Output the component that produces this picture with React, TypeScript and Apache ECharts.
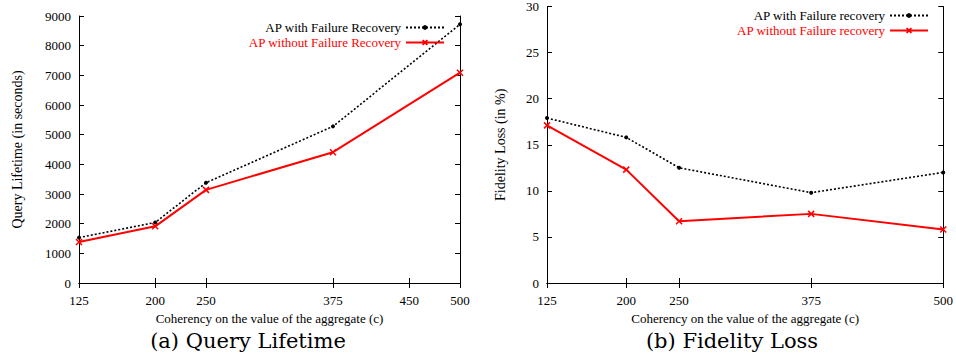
import React, { useEffect, useRef } from "react";
import * as echarts from "echarts";

const coherencyA = [125, 200, 250, 375, 500];
const lifetimeWith = [1530, 2040, 3380, 5280, 8720];
const lifetimeWithout = [1380, 1910, 3140, 4410, 7090];
const ticksA = [125, 200, 250, 375, 450, 500];

const coherencyB = [125, 200, 250, 375, 500];
const fidelityWith = [17.9, 15.8, 12.5, 9.8, 12.0];
const fidelityWithout = [17.1, 12.3, 6.7, 7.5, 5.8];
const ticksB = [125, 200, 250, 375, 500];

const nameA1 = "AP with Failure Recovery";
const nameA2 = "AP without Failure Recovery";
const nameB1 = "AP with Failure recovery";
const nameB2 = "AP without Failure recovery";
const xTitle = "Coherency on the value of the aggregate (c)";

const FONT = "'Liberation Serif', serif";
const CROSS = "path://M0 0L10 10M10 0L0 10";

function pairs(xs: number[], ys: number[]) {
  return xs.map((x, i) => [x, ys[i]]);
}

export default function App() {
  const ref = useRef<HTMLDivElement>(null);
  useEffect(() => {
    const chart = echarts.init(ref.current!, null, { renderer: "svg" });
    const lbl = { fontFamily: FONT, fontSize: 13, color: "#000" };
    const axLine = { show: true, lineStyle: { color: "#000", width: 1 } };
    const mkX = (grid: number, ticks: number[], pos: "top" | "bottom", showLabels: boolean) => ({
      type: "value",
      gridIndex: grid,
      position: pos,
      min: 125,
      max: 500,
      axisLine: axLine,
      splitLine: { show: false },
      axisTick: { show: true, inside: true, length: 5, customValues: ticks, lineStyle: { color: "#000" } },
      axisLabel: { show: showLabels, customValues: ticks, margin: 11, formatter: (v: number) => String(v), ...lbl },
      name: showLabels ? xTitle : "",
      nameLocation: "middle",
      nameGap: 28,
      nameTextStyle: { fontFamily: FONT, fontSize: 13, color: "#000" },
    });
    const mkY = (grid: number, max: number, interval: number, pos: "left" | "right", name: string, gap: number) => ({
      type: "value",
      gridIndex: grid,
      position: pos,
      min: 0,
      max,
      interval,
      axisLine: axLine,
      splitLine: { show: false },
      axisTick: { show: true, inside: true, length: 5, lineStyle: { color: "#000" } },
      axisLabel: { show: pos === "left", margin: 8, formatter: (v: number) => String(v), ...lbl },
      name,
      nameLocation: "middle",
      nameGap: gap,
      nameRotate: 90,
      nameTextStyle: { fontFamily: FONT, fontSize: 14, color: "#000" },
    });
    const blackSeries = (name: string, xi: number, yi: number, data: number[][]) => ({
      name,
      type: "line",
      xAxisIndex: xi,
      yAxisIndex: yi,
      data,
      symbol: "circle",
      symbolSize: 4,
      itemStyle: { color: "#000" },
      lineStyle: { color: "#000", width: 1.6, type: [2, 2] },
    });
    const redSeries = (name: string, xi: number, yi: number, data: number[][]) => ({
      name,
      type: "line",
      xAxisIndex: xi,
      yAxisIndex: yi,
      data,
      symbol: CROSS,
      symbolSize: 6,
      itemStyle: { color: "#ff0000", borderColor: "#ff0000", borderWidth: 1.5 },
      lineStyle: { color: "#ff0000", width: 2 },
    });
    const capStyle = { fontFamily: "'DejaVu Serif', serif", fontSize: 21, fontWeight: "normal", color: "#000" };
    chart.setOption({
      animation: false,
      backgroundColor: "#fff",
      title: [
        { text: "(a) Query Lifetime", left: 243, top: 325, textAlign: "center", textStyle: capStyle },
        { text: "(b) Fidelity Loss", left: 727, top: 325, textAlign: "center", textStyle: capStyle },
      ],
      grid: [
        { left: 79, right: 496, top: 16, bottom: 72 },
        { left: 547, right: 12, top: 5, bottom: 72 },
      ],
      legend: [
        {
          right: 956 - 450,
          top: 16,
          orient: "vertical",
          align: "right",
          itemGap: 2,
          itemWidth: 38,
          itemHeight: 6,
          data: [
            { name: nameA1, textStyle: { color: "#000" } },
            { name: nameA2, textStyle: { color: "#ff0000" } },
          ],
          textStyle: { fontFamily: FONT, fontSize: 13 },
        },
        {
          right: 956 - 934,
          top: 4,
          orient: "vertical",
          align: "right",
          itemGap: 2,
          itemWidth: 38,
          itemHeight: 6,
          data: [
            { name: nameB1, textStyle: { color: "#000" } },
            { name: nameB2, textStyle: { color: "#ff0000" } },
          ],
          textStyle: { fontFamily: FONT, fontSize: 13 },
        },
      ],
      xAxis: [
        mkX(0, ticksA, "bottom", true),
        mkX(0, ticksA, "top", false),
        mkX(1, ticksB, "bottom", true),
        mkX(1, ticksB, "top", false),
      ],
      yAxis: [
        mkY(0, 9000, 1000, "left", "Query Lifetime (in seconds)", 55),
        mkY(0, 9000, 1000, "right", "", 0),
        mkY(1, 30, 5, "left", "Fidelity Loss (in %)", 40),
        mkY(1, 30, 5, "right", "", 0),
      ],
      series: [
        blackSeries(nameA1, 0, 0, pairs(coherencyA, lifetimeWith)),
        redSeries(nameA2, 0, 0, pairs(coherencyA, lifetimeWithout)),
        blackSeries(nameB1, 2, 2, pairs(coherencyB, fidelityWith)),
        redSeries(nameB2, 2, 2, pairs(coherencyB, fidelityWithout)),
      ],
    });
    return () => chart.dispose();
  }, []);
  return <div ref={ref} style={{ width: 956, height: 355, position: "absolute", left: 0, top: 0 }} />;
}
